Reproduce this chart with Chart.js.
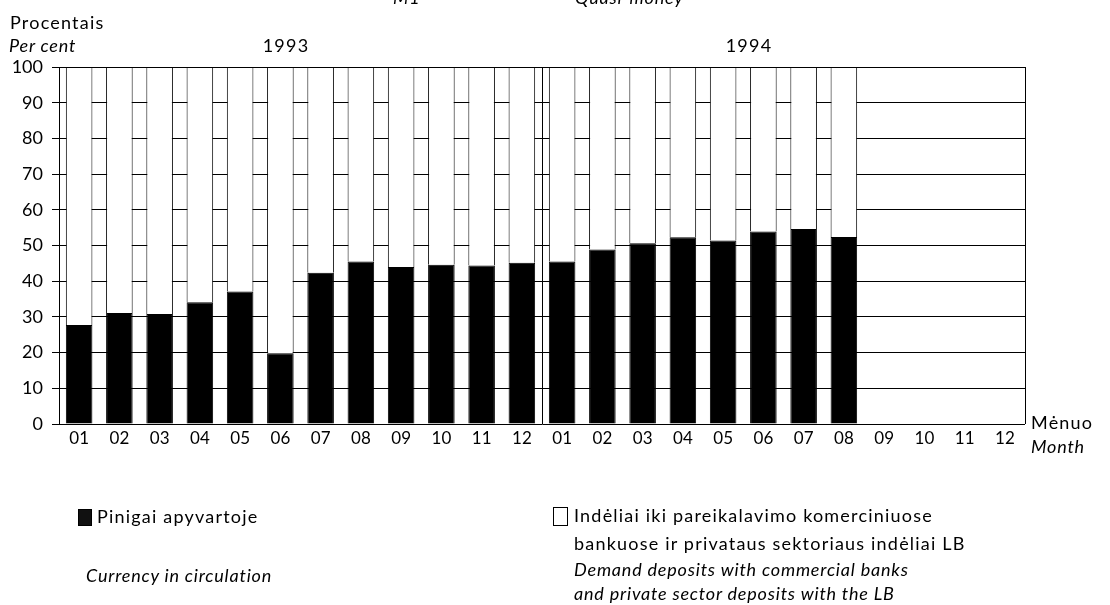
<!DOCTYPE html>
<html>
<head>
<meta charset="utf-8">
<script src="https://cdn.jsdelivr.net/npm/chart.js@4/dist/chart.umd.min.js"></script>
<style>
  body { margin: 0; background: #fff; font-family: Lato, sans-serif; color: #000; }
  #wrap { position: relative; width: 1110px; height: 605px; overflow: hidden; }
  #myChart { position: absolute; left: 0; top: 0; }
  .t { position: absolute; font-size: 18px; line-height: 20px; letter-spacing: 1.2px; white-space: nowrap; transform: translateY(-50%); }
  .i { font-style: italic; letter-spacing: 0.8px; }
  .c { transform: translate(-50%, -50%); }
  .box { position: absolute; width: 12px; height: 15px; border: 1px solid #000; }
</style>
</head>
<body>
<div id="wrap">
  <canvas id="myChart" width="1110" height="605"></canvas>

  <div class="t i" style="left:393px; top:-3px;">M1</div>
  <div class="t i" style="left:575px; top:-3px;">Quasi-money</div>

  <div class="t" style="left:10px; top:22px;">Procentais</div>
  <div class="t i" style="left:9px; top:45px;">Per cent</div>
  <div class="t c" id="y0" style="left:286px; top:45px;"></div>
  <div class="t c" id="y1" style="left:749px; top:45px;"></div>

  <div class="t" style="left:1031px; top:422px;">Mėnuo</div>
  <div class="t i" style="left:1031px; top:446px;">Month</div>

  <div class="box" style="left:78px; top:509px; background:#111;"></div>
  <div class="t" style="left:97px; top:516px;">Pinigai apyvartoje</div>
  <div class="t i" style="left:86px; top:575px;">Currency in circulation</div>

  <div class="box" style="left:553px; top:507px; width:13px; height:17px; background:#fff;"></div>
  <div class="t" style="left:574px; top:515px;">Indėliai iki pareikalavimo komerciniuose</div>
  <div class="t" style="left:574px; top:543px;">bankuose ir privataus sektoriaus indėliai LB</div>
  <div class="t i" style="left:574px; top:569px;">Demand deposits with commercial banks</div>
  <div class="t i" style="left:574px; top:593px;">and private sector deposits with the LB</div>
</div>
<script>
var years = ['1993', '1994'];
var months = ['01','02','03','04','05','06','07','08','09','10','11','12',
              '01','02','03','04','05','06','07','08','09','10','11','12'];
// currency in circulation, % of M1 + quasi-money
var currency = [27.7, 31.1, 30.8, 34.1, 37.1, 19.8, 42.4, 45.5, 44.0, 44.6, 44.4, 45.2,
                45.5, 48.9, 50.6, 52.3, 51.4, 53.9, 54.6, 52.4, null, null, null, null];
// demand deposits + private sector deposits with LB
var deposits = [72.3, 68.9, 69.2, 65.9, 62.9, 80.2, 57.6, 54.5, 56.0, 55.4, 55.6, 54.8,
                54.5, 51.1, 49.4, 47.7, 48.6, 46.1, 45.4, 47.6, null, null, null, null];
var yTicks = [0, 10, 20, 30, 40, 50, 60, 70, 80, 90, 100];

document.getElementById('y0').textContent = years[0];
document.getElementById('y1').textContent = years[1];

var ctx = document.getElementById('myChart').getContext('2d');
var myChart = new Chart(ctx, {
  type: 'bar',
  data: {
    labels: months,
    datasets: [{
      label: 'Pinigai apyvartoje',
      data: currency,
      backgroundColor: '#000',
      borderColor: '#000',
      borderWidth: 1,
      barPercentage: 0.66,
      categoryPercentage: 1
    }, {
      label: 'Indėliai',
      data: deposits,
      backgroundColor: '#fff',
      borderColor: '#000',
      borderWidth: 1,
      barPercentage: 0.66,
      categoryPercentage: 1
    }]
  },
  options: {
    responsive: false,
    animation: false,
    layout: { padding: { left: 0, top: 67, right: 85, bottom: 151 } },
    plugins: { legend: { display: false }, tooltip: { enabled: false } },
    scales: {
      x: {
        stacked: true,
        afterFit: function(s) { s.height = 30; },
        grid: {
          offset: true,
          drawTicks: false,
          color: function(c) {
            return (c.index === undefined || c.index % 12 === 0) ? '#000' : 'rgba(0,0,0,0)';
          }
        },
        border: { display: false },
        ticks: { color: '#000', padding: 4, maxRotation: 0, autoSkip: false,
                 font: { family: 'Lato', size: 17 } }
      },
      y: {
        stacked: true,
        min: 0,
        max: 100,
        afterFit: function(s) { s.width = 59; },
        afterBuildTicks: function(s) { s.ticks = yTicks.map(function(v) { return { value: v }; }); },
        grid: { color: '#000', lineWidth: 1, tickLength: 7 },
        border: { color: '#000', width: 1 },
        ticks: { color: '#000', padding: 9, font: { family: 'Lato', size: 18 } }
      }
    }
  }
});
</script>
</body>
</html>
